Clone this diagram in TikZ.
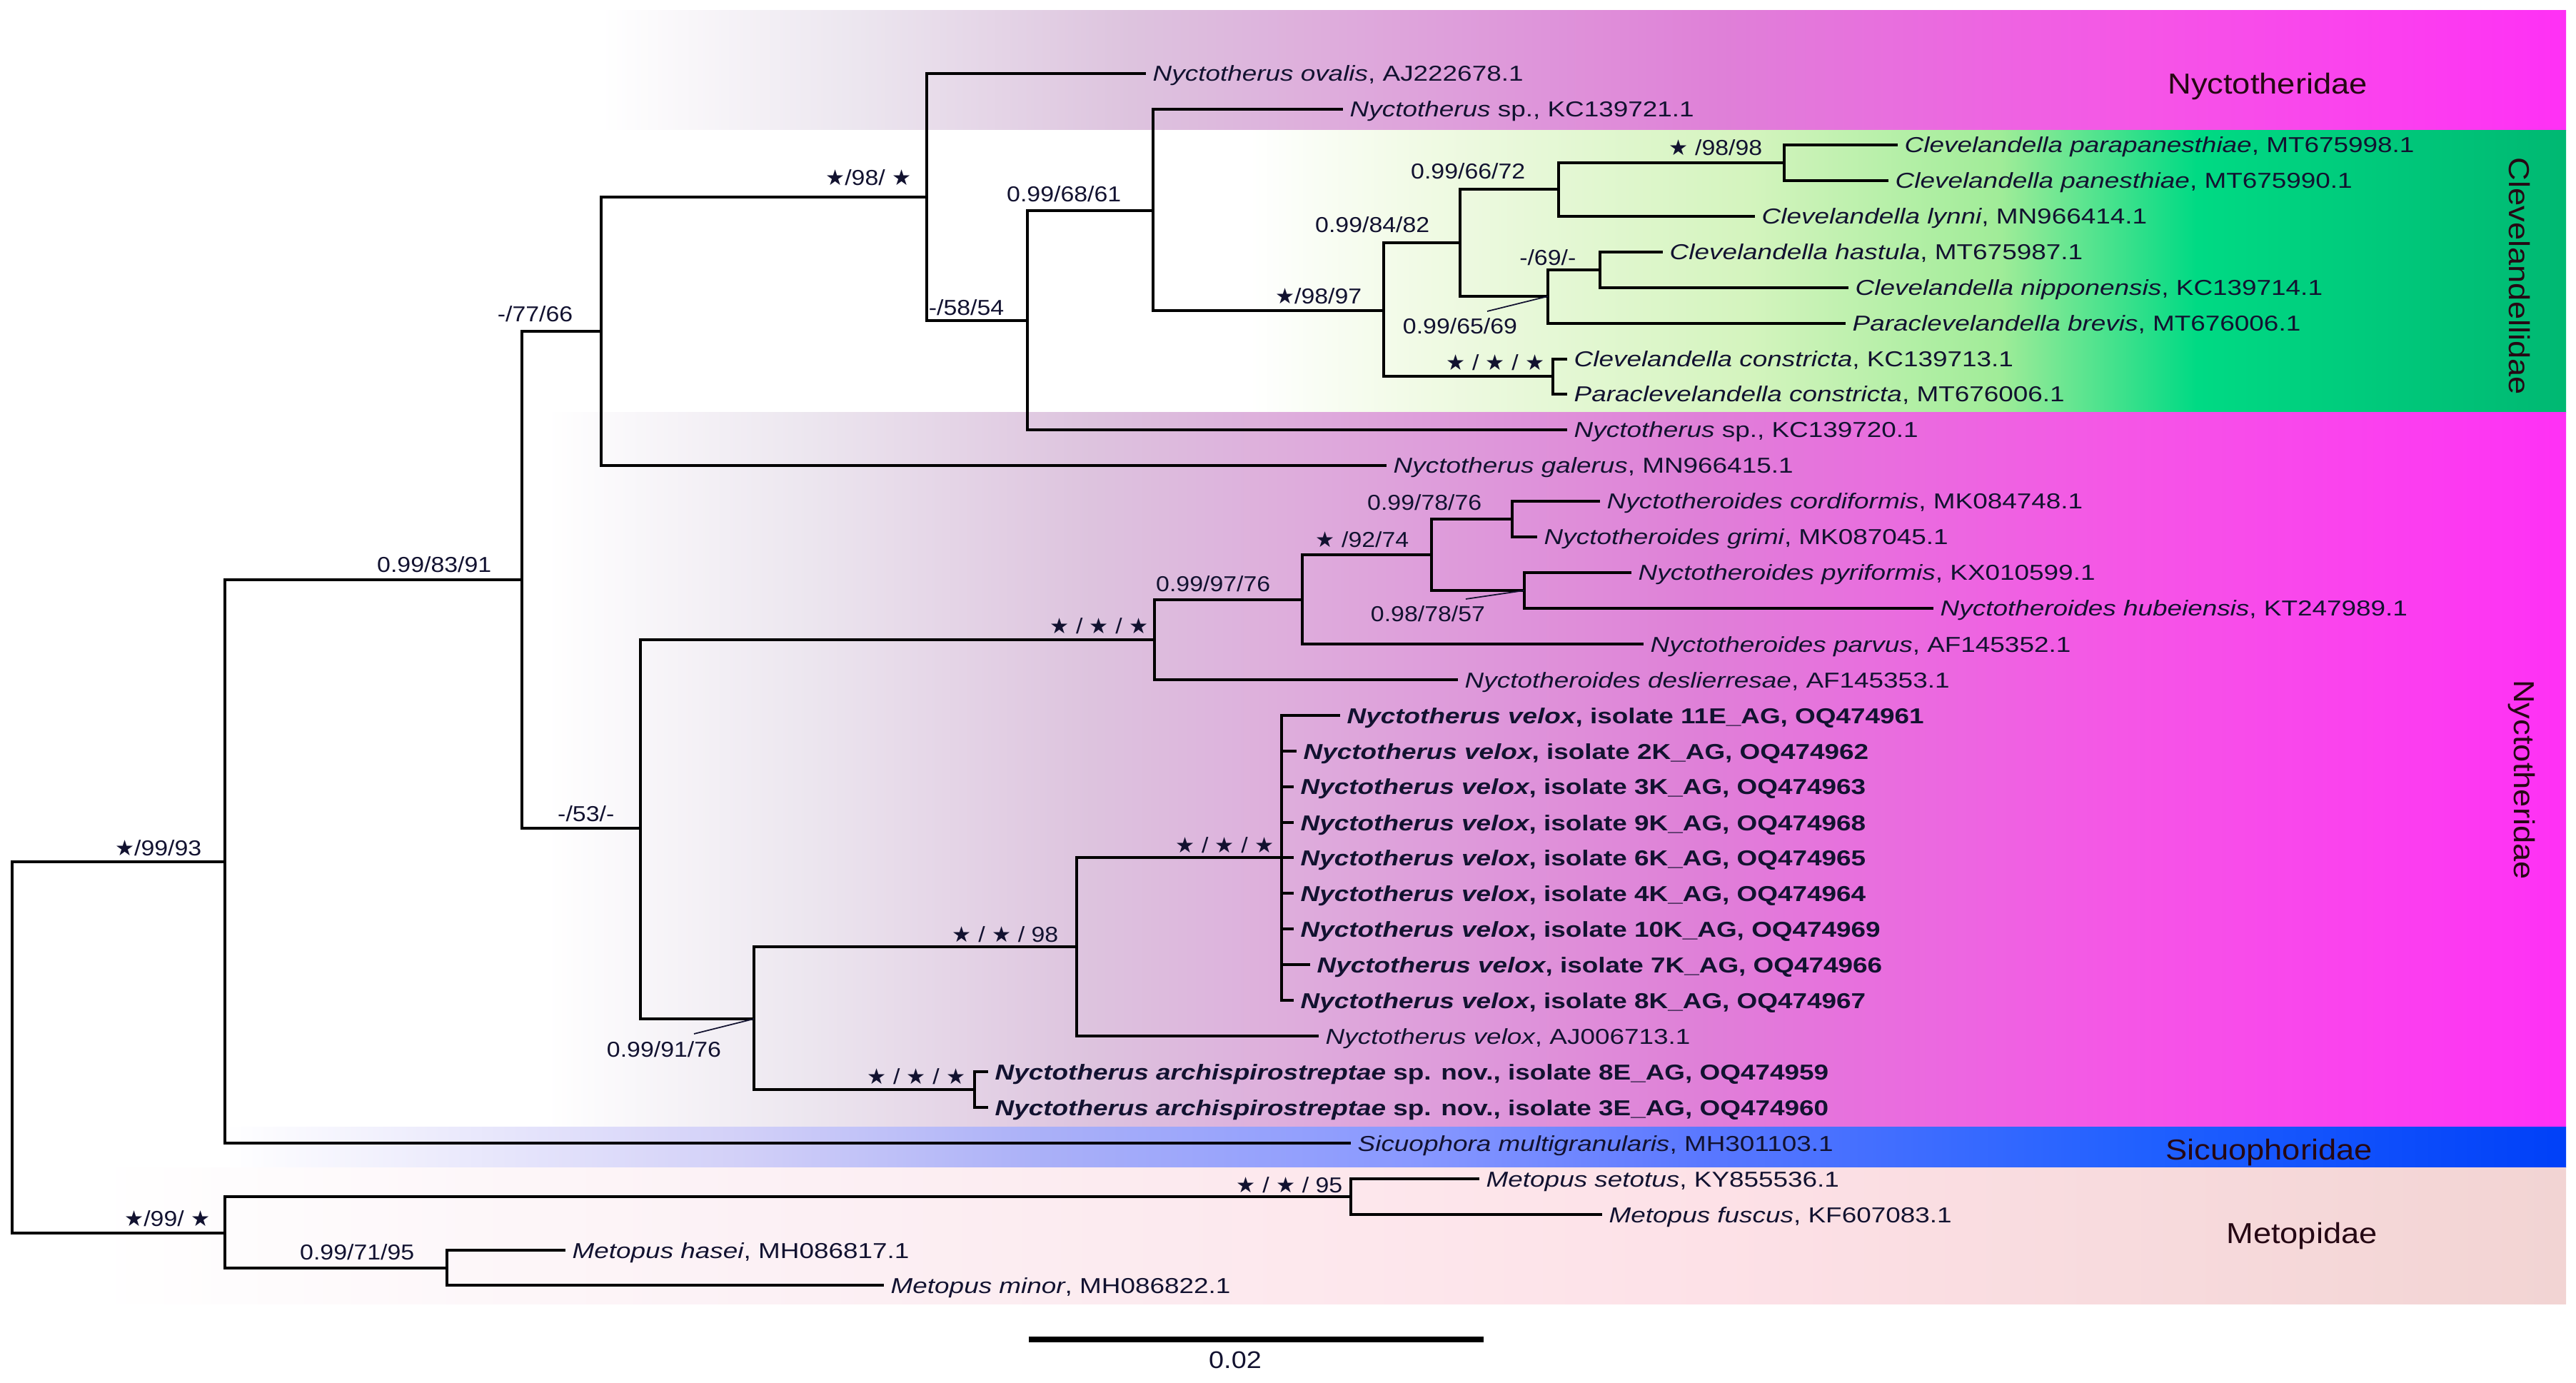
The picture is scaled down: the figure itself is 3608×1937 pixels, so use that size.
\documentclass[tikz,border=0pt]{standalone}
\usepackage{fontspec}
\setmainfont{Liberation Sans}
\newfontfamily\taxfont[FakeStretch=1.22]{Liberation Sans}
\newfontfamily\spfont[FakeStretch=1.12]{Liberation Sans}
\newfontfamily\stfont{DejaVu Sans}
\usetikzlibrary{calc}
\definecolor{txt}{RGB}{18,18,48}
\definecolor{grpc}{RGB}{38,8,20}
\definecolor{nyA}{HTML}{ECE6EF}
\definecolor{nyB}{HTML}{DDC3DE}
\definecolor{nyC}{HTML}{DF80D8}
\definecolor{nyD}{HTML}{F556E6}
\definecolor{nyE}{HTML}{FF30F5}
\definecolor{clA}{HTML}{F0FAE4}
\definecolor{clB}{HTML}{D4F4BE}
\definecolor{clC}{HTML}{A0EC98}
\definecolor{clD}{HTML}{00DA84}
\definecolor{clE}{HTML}{00B872}
\definecolor{siA}{HTML}{D2D0F8}
\definecolor{siB}{HTML}{AAB0F8}
\definecolor{siC}{HTML}{8898FF}
\definecolor{siD}{HTML}{5A78FF}
\definecolor{siE}{HTML}{2060FF}
\definecolor{siF}{HTML}{0040F8}
\definecolor{meA}{HTML}{FCF1F5}
\definecolor{meB}{HTML}{FDE1E7}
\definecolor{meC}{HTML}{F2D4D3}
\pgfdeclarehorizontalshading{nyctsh}{100bp}{color(0bp)=(white); color(25bp)=(white); color(31.5bp)=(nyA); color(38.5bp)=(nyB); color(53.5bp)=(nyC); color(64bp)=(nyD); color(75bp)=(nyE); color(100bp)=(nyE)}
\pgfdeclarehorizontalshading{clevsh}{100bp}{color(0bp)=(white); color(41.5bp)=(white); color(46bp)=(clA); color(54.2bp)=(clB); color(60.6bp)=(clC); color(65.6bp)=(clD); color(75bp)=(clE); color(100bp)=(clE)}
\pgfdeclarehorizontalshading{sicush}{100bp}{color(0bp)=(white); color(25bp)=(white); color(36bp)=(siA); color(42.5bp)=(siB); color(50.5bp)=(siC); color(56.5bp)=(siD); color(66bp)=(siE); color(75bp)=(siF); color(100bp)=(siF)}
\pgfdeclarehorizontalshading{metsh}{100bp}{color(0bp)=(white); color(25bp)=(white); color(38.3bp)=(meA); color(57.8bp)=(meB); color(75bp)=(meC); color(100bp)=(meC)}
\newcommand\st{{\stfont ★}}
\begin{document}
\begin{tikzpicture}[x=0.01cm,y=-0.01cm,
  br/.style={line width=1.4pt, black, line join=miter},
  lead/.style={line width=0.5pt, txt},
  tax/.style={font=\taxfont\fontsize{8.6}{10}\selectfont, text=txt, inner sep=0pt, anchor=base west},
  supp/.style={font=\spfont\fontsize{8.6}{10}\selectfont, text=txt, inner sep=0pt, anchor=base east},
  grp/.style={font=\spfont\fontsize{11.5}{13}\selectfont, text=grpc, inner sep=0pt}]
\useasboundingbox (0,0) rectangle (3608,1937);
% background bands
\fill[shading=nyctsh] (842,15) rectangle (3594,183);
\fill[shading=clevsh] (842,183) rectangle (3594,578);
\fill[shading=nyctsh] (765,578) rectangle (3594,1578);
\fill[shading=sicush] (314,1578) rectangle (3594,1635);
\fill[shading=metsh] (130,1635) rectangle (3594,1826);
% tips
\coordinate (t1) at (1605,103);
\coordinate (t2) at (1881,153);
\coordinate (t3) at (2658,203);
\coordinate (t4) at (2645,253);
\coordinate (t5) at (2458,303);
\coordinate (t6) at (2329,353);
\coordinate (t7) at (2589,403);
\coordinate (t8) at (2585,453);
\coordinate (t9) at (2195,503);
\coordinate (t10) at (2195,552);
\coordinate (t11) at (2195,602);
\coordinate (t12) at (1942,652);
\coordinate (t13) at (2241,702);
\coordinate (t14) at (2153,752);
\coordinate (t15) at (2285,802);
\coordinate (t16) at (2708,852);
\coordinate (t17) at (2302,902);
\coordinate (t18) at (2042,952);
\coordinate (t19) at (1877,1002);
\coordinate (t20) at (1816,1052);
\coordinate (t21) at (1812,1102);
\coordinate (t22) at (1812,1152);
\coordinate (t23) at (1812,1201);
\coordinate (t24) at (1812,1251);
\coordinate (t25) at (1812,1301);
\coordinate (t26) at (1835,1351);
\coordinate (t27) at (1812,1401);
\coordinate (t28) at (1847,1451);
\coordinate (t29) at (1384,1501);
\coordinate (t30) at (1384,1551);
\coordinate (t31) at (1892,1601);
\coordinate (t32) at (2072,1651);
\coordinate (t33) at (2244,1701);
\coordinate (t34) at (792,1751);
\coordinate (t35) at (1238,1800);
% internal nodes
\coordinate (root) at (17,1467);
\coordinate (nA) at (315,1207);
\coordinate (n83) at (731,812);
\coordinate (n77) at (842,464);
\coordinate (n98s) at (1298,276);
\coordinate (n58) at (1439,449);
\coordinate (n68) at (1615,295);
\coordinate (n9897) at (1938,435);
\coordinate (nCon) at (2175,527);
\coordinate (n84) at (2045,340);
\coordinate (n66) at (2183,265);
\coordinate (n9898) at (2499,228);
\coordinate (n65) at (2168,415);
\coordinate (n69) at (2241,378);
\coordinate (n53) at (897,1160);
\coordinate (nSSS) at (1617,896);
\coordinate (n9776) at (1824,840);
\coordinate (n9274) at (2005,777);
\coordinate (n7876) at (2118,727);
\coordinate (n7857) at (2135,827);
\coordinate (n91) at (1056,1427);
\coordinate (n98v) at (1508,1326);
\coordinate (nVel) at (1795,1201);
\coordinate (nArch) at (1365,1526);
\coordinate (nMet) at (315,1727);
\coordinate (nSet) at (1892,1676);
\coordinate (nHas) at (626,1776);
% branches
\foreach \p/\c in {root/nA, root/nMet, nA/n83, nA/t31, n83/n77, n83/n53,
  n77/n98s, n77/t12, n98s/t1, n98s/n58, n58/n68, n58/t11, n68/t2, n68/n9897,
  n9897/n84, n9897/nCon, nCon/t9, nCon/t10, n84/n66, n84/n65, n66/n9898, n66/t5,
  n9898/t3, n9898/t4, n65/n69, n65/t8, n69/t6, n69/t7,
  n53/nSSS, n53/n91, nSSS/n9776, nSSS/t18, n9776/n9274, n9776/t17,
  n9274/n7876, n9274/n7857, n7876/t13, n7876/t14, n7857/t15, n7857/t16,
  n91/n98v, n91/nArch, n98v/nVel, n98v/t28, nVel/t19, nVel/t20, nVel/t21,
  nVel/t22, nVel/t23, nVel/t24, nVel/t25, nVel/t26, nVel/t27,
  nArch/t29, nArch/t30, nMet/nSet, nMet/nHas, nSet/t32, nSet/t33,
  nHas/t34, nHas/t35}
  \draw[br] (\p) |- (\c);
% taxon labels
\node[tax] (L1) at ($(t1)+(9,11)$) {\textit{Nyctotherus ovalis}, AJ222678.1};
\node[tax] (L2) at ($(t2)+(9,11)$) {\textit{Nyctotherus} sp., KC139721.1};
\node[tax] (L3) at ($(t3)+(9,11)$) {\textit{Clevelandella parapanesthiae}, MT675998.1};
\node[tax] (L4) at ($(t4)+(9,11)$) {\textit{Clevelandella panesthiae}, MT675990.1};
\node[tax] (L5) at ($(t5)+(9,11)$) {\textit{Clevelandella lynni}, MN966414.1};
\node[tax] (L6) at ($(t6)+(9,11)$) {\textit{Clevelandella hastula}, MT675987.1};
\node[tax] (L7) at ($(t7)+(9,11)$) {\textit{Clevelandella nipponensis}, KC139714.1};
\node[tax] (L8) at ($(t8)+(9,11)$) {\textit{Paraclevelandella brevis}, MT676006.1};
\node[tax] (L9) at ($(t9)+(9,11)$) {\textit{Clevelandella constricta}, KC139713.1};
\node[tax] (L10) at ($(t10)+(9,11)$) {\textit{Paraclevelandella constricta}, MT676006.1};
\node[tax] (L11) at ($(t11)+(9,11)$) {\textit{Nyctotherus} sp., KC139720.1};
\node[tax] (L12) at ($(t12)+(9,11)$) {\textit{Nyctotherus galerus}, MN966415.1};
\node[tax] (L13) at ($(t13)+(9,11)$) {\textit{Nyctotheroides cordiformis}, MK084748.1};
\node[tax] (L14) at ($(t14)+(9,11)$) {\textit{Nyctotheroides grimi}, MK087045.1};
\node[tax] (L15) at ($(t15)+(9,11)$) {\textit{Nyctotheroides pyriformis}, KX010599.1};
\node[tax] (L16) at ($(t16)+(9,11)$) {\textit{Nyctotheroides hubeiensis}, KT247989.1};
\node[tax] (L17) at ($(t17)+(9,11)$) {\textit{Nyctotheroides parvus}, AF145352.1};
\node[tax] (L18) at ($(t18)+(9,11)$) {\textit{Nyctotheroides deslierresae}, AF145353.1};
\node[tax] (L19) at ($(t19)+(9,11)$) {\bfseries\textit{Nyctotherus velox}, isolate 11E\_AG, OQ474961};
\node[tax] (L20) at ($(t20)+(9,11)$) {\bfseries\textit{Nyctotherus velox}, isolate 2K\_AG, OQ474962};
\node[tax] (L21) at ($(t21)+(9,11)$) {\bfseries\textit{Nyctotherus velox}, isolate 3K\_AG, OQ474963};
\node[tax] (L22) at ($(t22)+(9,11)$) {\bfseries\textit{Nyctotherus velox}, isolate 9K\_AG, OQ474968};
\node[tax] (L23) at ($(t23)+(9,11)$) {\bfseries\textit{Nyctotherus velox}, isolate 6K\_AG, OQ474965};
\node[tax] (L24) at ($(t24)+(9,11)$) {\bfseries\textit{Nyctotherus velox}, isolate 4K\_AG, OQ474964};
\node[tax] (L25) at ($(t25)+(9,11)$) {\bfseries\textit{Nyctotherus velox}, isolate 10K\_AG, OQ474969};
\node[tax] (L26) at ($(t26)+(9,11)$) {\bfseries\textit{Nyctotherus velox}, isolate 7K\_AG, OQ474966};
\node[tax] (L27) at ($(t27)+(9,11)$) {\bfseries\textit{Nyctotherus velox}, isolate 8K\_AG, OQ474967};
\node[tax] (L28) at ($(t28)+(9,11)$) {\textit{Nyctotherus velox}, AJ006713.1};
\node[tax] (L29) at ($(t29)+(9,11)$) {\bfseries\textit{Nyctotherus archispirostreptae} sp. nov., isolate 8E\_AG, OQ474959};
\node[tax] (L30) at ($(t30)+(9,11)$) {\bfseries\textit{Nyctotherus archispirostreptae} sp. nov., isolate 3E\_AG, OQ474960};
\node[tax] (L31) at ($(t31)+(9,11)$) {\textit{Sicuophora multigranularis}, MH301103.1};
\node[tax] (L32) at ($(t32)+(9,11)$) {\textit{Metopus setotus}, KY855536.1};
\node[tax] (L33) at ($(t33)+(9,11)$) {\textit{Metopus fuscus}, KF607083.1};
\node[tax] (L34) at ($(t34)+(9,11)$) {\textit{Metopus hasei}, MH086817.1};
\node[tax] (L35) at ($(t35)+(9,11)$) {\textit{Metopus minor}, MH086822.1};
% support values
\node[supp] (sA) at (283,1198) {\st/99/93};
\node[supp] (s83) at (689,802) {0.99/83/91};
\node[supp] (s77) at (803,451) {-/77/66};
\node[supp] (s53) at (861,1150) {-/53/-};
\node[supp] (s98s) at (1277,260) {\st/98/ \st};
\node[supp] (s58) at (1407,442) {-/58/54};
\node[supp] (s68) at (1571,283) {0.99/68/61};
\node[supp] (s9897) at (1908,426) {\st/98/97};
\node[supp] (s84) at (2003,326) {0.99/84/82};
\node[supp] (sCon) at (2164,519) {\st\ / \st\ / \st};
\node[supp] (s66) at (2137,251) {0.99/66/72};
\node[supp] (s9898) at (2469,218) {\st\ /98/98};
\node[supp] (s69) at (2208,372) {-/69/-};
\node[supp, anchor=base] (s65) at (2045,468) {0.99/65/69};
\node[supp] (sSSS) at (1609,888) {\st\ / \st\ / \st};
\node[supp] (s9776) at (1780,829) {0.99/97/76};
\node[supp] (s9274) at (1974,767) {\st\ /92/74};
\node[supp] (s7876) at (2076,715) {0.99/78/76};
\node[supp, anchor=base] (s7857) at (2000,870) {0.98/78/57};
\node[supp] (sVel) at (1785,1194) {\st\ / \st\ / \st};
\node[supp] (s98v) at (1483,1319) {\st\ / \st\ / 98};
\node[supp, anchor=base] (s91) at (930,1480) {0.99/91/76};
\node[supp] (sArch) at (1353,1518) {\st\ / \st\ / \st};
\node[supp] (sSet) at (1881,1670) {\st\ / \st\ / 95};
\node[supp] (sMet) at (295,1717) {\st/99/ \st};
\node[supp] (sHas) at (581,1764) {0.99/71/95};
% leader lines
\coordinate (l65) at (2083,436);
\coordinate (l57) at (2053,839);
\coordinate (l91) at (972,1448);
\draw[lead] (l65) -- (n65);
\draw[lead] (l57) -- (n7857);
\draw[lead] (l91) -- (n91);
% group labels
\node[grp, anchor=base] (gNy1) at (3176,132) {Nyctotheridae};
\node[grp, rotate=-90] (gCl) at (3529,387) {Clevelandellidae};
\node[grp, rotate=-90] (gNy2) at (3532,1092) {Nyctotheridae};
\node[grp, anchor=base] (gSi) at (3178,1624) {Sicuophoridae};
\node[grp, anchor=base] (gMe) at (3224,1741) {Metopidae};
% scale bar
\coordinate (sb1) at (1441,1876);
\coordinate (sb2) at (2078,1876);
\draw[line width=2pt, black] (sb1) -- (sb2);
\node[font=\spfont\fontsize{9.6}{11}\selectfont, text=txt, inner sep=0pt] (sbl) at (1730,1905) {0.02};
\end{tikzpicture}
\end{document}
